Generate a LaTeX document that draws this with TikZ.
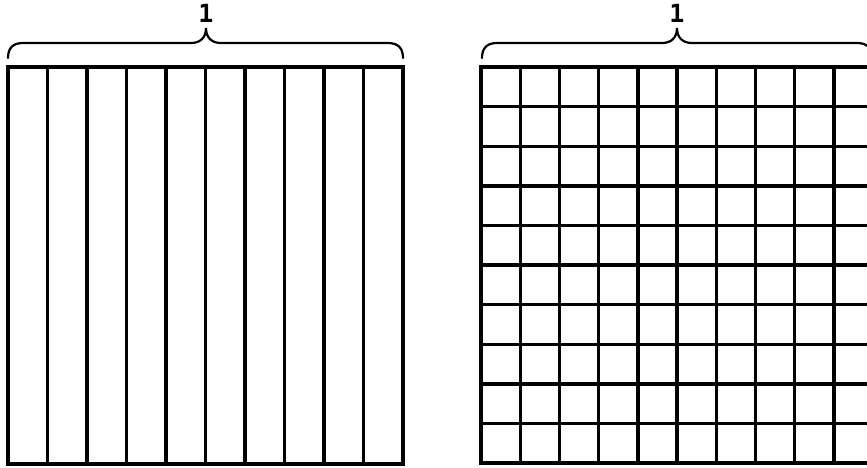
\documentclass[tikz,border=0pt]{standalone}
\usepackage{fontspec}
\setmonofont{DejaVu Sans Mono}
\begin{document}
\begin{tikzpicture}[x=1pt,y=-1pt,
  gridline/.style={line width=3.4pt},
  bracepath/.style={line width=2.2pt, line cap=round},
  lbl/.style={font=\ttfamily\bfseries\fontsize{25}{25}\selectfont, inner sep=0pt}]
\useasboundingbox (0,0) rectangle (867,468);
\clip (0,0) rectangle (867,468);
% left square with vertical strips
\foreach \i in {1,...,9} {
  \draw[gridline] ({8+39.5*\i},67) -- ({8+39.5*\i},464);
}
\draw[gridline] (8,67) rectangle (403,464);
% right square grid
\foreach \i in {1,...,9} {
  \draw[gridline] ({481+39.2*\i},67) -- ({481+39.2*\i},463);
  \draw[gridline] (481,{67+39.6*\i}) -- (873,{67+39.6*\i});
}
\draw[gridline] (481,67) rectangle (873,463);
% braces
\coordinate (lb1) at (8,58);
\coordinate (lb2) at (403,58);
\coordinate (ltip) at (206,28);
\draw[bracepath] (lb1) .. controls (8,48) and (13,43) .. (23,43) -- (191,43)
  .. controls (200,43) and (206,38) .. (ltip)
  .. controls (206,38) and (212,43) .. (221,43) -- (388,43)
  .. controls (398,43) and (403,48) .. (lb2);
\coordinate (rb1) at (482,58);
\coordinate (rb2) at (872,58);
\coordinate (rtip) at (677,28);
\draw[bracepath] (rb1) .. controls (482,48) and (487,43) .. (497,43) -- (662,43)
  .. controls (671,43) and (677,38) .. (rtip)
  .. controls (677,38) and (683,43) .. (692,43) -- (857,43)
  .. controls (867,43) and (872,48) .. (rb2);
\node[lbl, anchor=base] (l1) at (206,23) {1};
\node[lbl, anchor=base] (l2) at (677,23) {1};
\end{tikzpicture}
\end{document}
